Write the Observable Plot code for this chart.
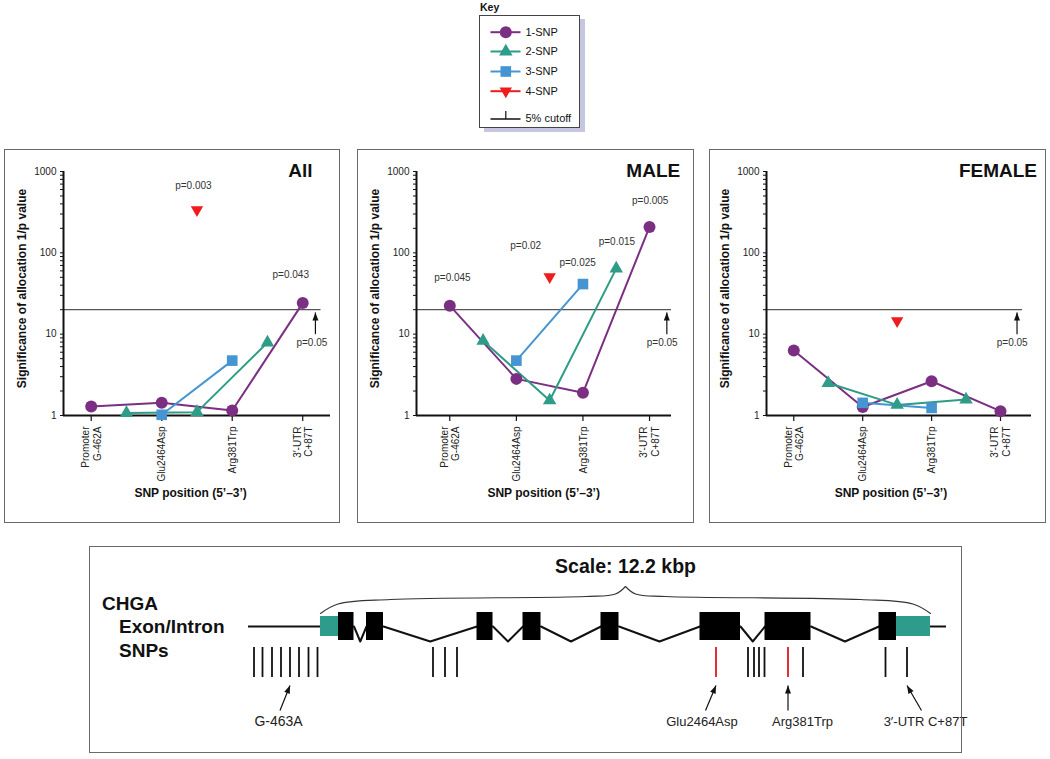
<!DOCTYPE html>
<html><head><meta charset="utf-8">
<script src="https://cdn.jsdelivr.net/npm/d3@7"></script>
<script src="https://cdn.jsdelivr.net/npm/@observablehq/plot@0.6"></script>
<style>
body{margin:0;background:#fff;font-family:"Liberation Sans",Arial,Helvetica,sans-serif;}
#page{position:relative;width:1050px;height:759px;overflow:hidden;background:#fff}
.box{position:absolute;border:1.5px solid #6a6a6a;box-sizing:border-box;pointer-events:none}
</style></head><body><div id="page"></div>
<script>
// ---------------- DATA ----------------
const categories = ["Promoter\nG-462A", "Glu2464Asp", "Arg381Trp", "3′-UTR\nC+87T"];
const categoryPos = [0, 1, 2, 3];
const seriesNames = ["1-SNP", "2-SNP", "3-SNP", "4-SNP"];
const seriesColors = ["#7b2f83", "#2e9c86", "#4595d2", "#ee1c1c"];

const snp1Pos = [0, 1, 2, 3];
const snp2Pos = [0.5, 1.5, 2.5];
const snp3Pos = [1, 2];
const snp4Pos = [1.5];

const allSnp1 = [1.29, 1.43, 1.15, 24.1];
const allSnp2 = [1.07, 1.10, 7.9];
const allSnp3 = [1.02, 4.73];
const allSnp4 = [337];

const maleSnp1 = [22.4, 2.82, 1.90, 208];
const maleSnp2 = [8.3, 1.53, 64];
const maleSnp3 = [4.73, 41.3];
const maleSnp4 = [50.8];

const femaleSnp1 = [6.28, 1.27, 2.64, 1.13];
const femaleSnp2 = [2.51, 1.35, 1.57];
const femaleSnp3 = [1.43, 1.24];
const femaleSnp4 = [14.6];

const cutoffP = 0.05;
const yTicks = [1, 10, 100, 1000];
const yLabel = "Significance of allocation 1/p value";
const xLabel = "SNP position (5’–3’)";

const allNotes = [{text: "p=0.003", x: 1.45, y: 676}, {text: "p=0.043", x: 2.83, y: 53}];
const maleNotes = [{text: "p=0.045", x: 0.04, y: 49.8}, {text: "p=0.02", x: 1.14, y: 122},
  {text: "p=0.025", x: 1.92, y: 76}, {text: "p=0.015", x: 2.51, y: 137}, {text: "p=0.005", x: 3.01, y: 434}];
const femaleNotes = [];

// Gene (kb, 0 = start of transcript)
const geneSpanKb = 12.2;
const flankStart = -1.44, flankEnd = 12.52;
const exonStart = [0.36, 0.92, 3.13, 4.05, 5.61, 7.59, 8.89, 11.17];
const exonEnd   = [0.67, 1.26, 3.45, 4.41, 5.97, 8.40, 9.81, 11.52];
const utrStart = [0, 11.52];
const utrEnd = [0.36, 12.2];
const snpKb = [-1.33, -1.16, -0.97, -0.79, -0.61, -0.43, -0.24, -0.06, 2.25, 2.49, 2.73,
  8.55, 8.67, 8.77, 8.88, 9.65, 11.30, 11.73];
const codingSnpKb = [7.91, 9.35];
const snpNames = ["G-463A", "Glu2464Asp", "Arg381Trp", "3′-UTR C+87T"];
const snpNameKb = [-0.61, 7.91, 9.35, 11.73];
const geneLabels = ["CHGA", "Exon/Intron", "SNPs"];

// ---------------- LAYOUT ----------------
const FONT = '"Liberation Sans", Arial, Helvetica, sans-serif';
const page = document.getElementById("page");
function put(el, left, top) { el.style.position = "absolute"; el.style.left = left + "px"; el.style.top = top + "px"; page.appendChild(el); return el; }
function box(left, top, w, h, extra = "") { const d = document.createElement("div"); d.className = "box"; d.style.cssText += `left:${left}px;top:${top}px;width:${w}px;height:${h}px;${extra}`; page.appendChild(d); return d; }

const triangleDown = {draw(ctx, size) { const y = Math.sqrt(size / (Math.sqrt(3) * 3)); ctx.moveTo(0, 2 * y); ctx.lineTo(Math.sqrt(3) * y, -y); ctx.lineTo(-Math.sqrt(3) * y, -y); ctx.closePath(); }};
function headSymbol(angle, len = 8, half = 3) {
  return {draw(ctx) { const c = Math.cos(angle), s = Math.sin(angle); const bx = -len * c, by = -len * s, px = -s * half, py = c * half;
    ctx.moveTo(0, 0); ctx.lineTo(bx + px, by + py); ctx.lineTo(bx - px, by - py); ctx.closePath(); }};
}
const colorOf = Object.fromEntries(seriesNames.map((n, i) => [n, seriesColors[i]]));
const symbolOf = {"1-SNP": "circle", "2-SNP": "triangle", "3-SNP": "square", "4-SNP": triangleDown};
const rOf = {"1-SNP": 6, "2-SNP": 5, "3-SNP": 6, "4-SNP": 4.6};

const minorTicks = [];
for (let k = 0; k < 3; k++) for (let m = 1; m < 10; m++) minorTicks.push(m * 10 ** k);
minorTicks.push(1000);

const panelLayout = [
  {key: "All", left: 4, width: 336, ml: 59, mr: 10, xDomain: [-0.393, 3.394], cutEnd: 3.26, arrowX: 3.18, pX: 3.13, titleX: 3.14},
  {key: "MALE", left: 357, width: 337, ml: 59, mr: 23, xDomain: [-0.5, 3.33], cutEnd: 3.33, arrowX: 3.26, pX: 3.19, titleX: 3.46},
  {key: "FEMALE", left: 709, width: 337, ml: 57, mr: 15, xDomain: [-0.396, 3.45], cutEnd: 3.32, arrowX: 3.24, pX: 3.17, titleX: 3.53}
];

function makePanel(L, s1, s2, s3, s4, notes) {
  const rows = [];
  [["1-SNP", snp1Pos, s1], ["2-SNP", snp2Pos, s2], ["3-SNP", snp3Pos, s3], ["4-SNP", snp4Pos, s4]]
    .forEach(([name, xs, vs]) => xs.forEach((x, i) => rows.push({series: name, x, v: vs[i]})));
  const by = n => rows.filter(d => d.series === n);
  const cut = 1 / cutoffP;
  const marks = [
    Plot.ruleY([{y: cut, a: L.xDomain[0], b: L.cutEnd}], {y: "y", x1: "a", x2: "b", stroke: "#555", strokeWidth: 1.3}),
    Plot.axisY({ticks: minorTicks, label: null, tickSize: 3, tickPadding: 4, tickFormat: d => yTicks.includes(d) ? String(d) : "", fontSize: 10, fill: "#222"}),
    Plot.axisX({ticks: categoryPos, label: null, tickSize: 6, tickFormat: () => "", strokeWidth: 1.2}),
    Plot.ruleX([L.xDomain[0]], {stroke: "#111", strokeWidth: 2}),
    Plot.ruleY([1], {stroke: "#111", strokeWidth: 2}),
    Plot.text(categoryPos, {x: d => d, text: (d, i) => categories[i], frameAnchor: "bottom", rotate: -90, textAnchor: "end", lineAnchor: "middle", dy: 11, lineHeight: 1.15, fontSize: 10, fill: "#222"}),
    Plot.text([{t: yLabel}], {text: "t", frameAnchor: "left", rotate: -90, dx: -41, dy: -5, fontWeight: "bold", fontSize: 12, textAnchor: "middle", lineAnchor: "middle", fill: "#111"}),
    Plot.text([{t: xLabel, x: 1.41}], {x: "x", text: "t", frameAnchor: "bottom", dy: 78, fontWeight: "bold", fontSize: 12, lineAnchor: "middle", fill: "#111"}),
    Plot.text([{t: L.key, x: L.titleX, y: 868}], {x: "x", y: "y", text: "t", textAnchor: "end", lineAnchor: "bottom", fontSize: 19, fontWeight: "bold", fill: "#111"}),
    Plot.text(notes, {x: "x", y: "y", text: "text", fontSize: 10, fill: "#333"}),
    Plot.text([{t: "p=0.05", x: L.pX, y: 7.94}], {x: "x", y: "y", text: "t", fontSize: 10, fill: "#333"}),
    Plot.link([{x: L.arrowX, y1: 10, y2: 18.5}], {x1: "x", x2: "x", y1: "y1", y2: "y2", stroke: "#111", strokeWidth: 1.2}),
    Plot.dot([{x: L.arrowX, y: 18.5}], {x: "x", y: "y", symbol: headSymbol(-Math.PI / 2, 8, 3), r: 3, fill: "#111", stroke: "none"})
  ];
  ["1-SNP", "2-SNP", "3-SNP"].forEach(n => marks.push(Plot.line(by(n), {x: "x", y: "v", stroke: colorOf[n], strokeWidth: 2})));
  seriesNames.forEach(n => marks.push(Plot.dot(by(n), {x: "x", y: "v", fill: colorOf[n], stroke: "none", symbol: symbolOf[n], r: rOf[n]})));
  return Plot.plot({
    width: L.width, height: 374, marginTop: 22, marginBottom: 108, marginLeft: L.ml, marginRight: L.mr,
    style: {fontFamily: FONT, fontSize: "10px", background: "transparent", overflow: "visible", color: "#111"},
    x: {domain: L.xDomain, axis: null, label: null},
    y: {type: "log", domain: [1, 1000], axis: null, label: null},
    marks
  });
}

const panelData = [
  [allSnp1, allSnp2, allSnp3, allSnp4, allNotes],
  [maleSnp1, maleSnp2, maleSnp3, maleSnp4, maleNotes],
  [femaleSnp1, femaleSnp2, femaleSnp3, femaleSnp4, femaleNotes]
];
panelLayout.forEach((L, i) => {
  const [a, b, c, d, notes] = panelData[i];
  put(makePanel(L, a, b, c, d, notes), L.left, 149);
  box(L.left, 149, L.width, 374);
});

// ---------------- KEY ----------------
const keyLabel = document.createElement("div");
keyLabel.textContent = "Key";
keyLabel.style.cssText = `font:bold 10.5px ${FONT};color:#111;line-height:12px`;
put(keyLabel, 480, 1);
const keyBox = document.createElement("div");
keyBox.style.cssText = "width:101px;height:113px;border:1px solid #444;box-sizing:border-box;background:#fff;box-shadow:5px 4px 0 #c6c6e0";
put(keyBox, 479, 15);
const legendRowsY = [16.7, 36, 56, 75.7];
const legendRows = seriesNames.map((n, i) => ({series: n, y: legendRowsY[i]}));
const cutRowY = 102.5;
const legendMarks = [
  Plot.link(legendRows, {x1: () => 11, x2: () => 41, y1: "y", y2: "y", stroke: d => colorOf[d.series], strokeWidth: 2}),
  Plot.text(legendRows, {x: () => 46, y: "y", text: "series", textAnchor: "start", fontSize: 11, fill: "#111"}),
  Plot.link([{y: cutRowY + 1}], {x1: () => 11, x2: () => 41, y1: "y", y2: "y", stroke: "#111", strokeWidth: 1.5}),
  Plot.link([{y: cutRowY + 1}], {x1: () => 26.3, x2: () => 26.3, y1: d => d.y - 8, y2: "y", stroke: "#111", strokeWidth: 1.2}),
  Plot.text([{t: "5% cutoff"}], {x: () => 46, y: () => cutRowY, text: "t", textAnchor: "start", fontSize: 11, fill: "#111"})
];
seriesNames.forEach(n => legendMarks.push(Plot.dot(legendRows.filter(d => d.series === n), {x: () => 26.3, y: "y", fill: colorOf[n], stroke: "none", symbol: symbolOf[n], r: rOf[n]})));
const legendPlot = Plot.plot({
  width: 99, height: 111, margin: 0,
  style: {fontFamily: FONT, background: "transparent", overflow: "visible"},
  x: {domain: [0, 99], range: [0, 99], axis: null},
  y: {domain: [0, 111], range: [0, 111], axis: null},
  marks: legendMarks
});
put(legendPlot, 479, 15);

// ---------------- GENE DIAGRAM ----------------
const G = 80;            // gene track
const dip = 15;          // intron depth
const snpTop = 101, snpBottom = 131;
const arrowTipY = 139, arrowTailY = 164, nameY = 179;
const arrowTailDx = [-0.2, -0.21, 0, 0.29];
const nameDx = [-0.23, -0.28, 0.29, 0.37];
const nameSize = [14, 13, 13, 13];
const gW = 873, gH = 207;
const gxDomain = [-4.62, 12.84];
const pxPerKb = gW / (gxDomain[1] - gxDomain[0]);

const exons = exonStart.map((s, i) => ({x1: s, x2: exonEnd[i]}));
const utrs = utrStart.map((s, i) => ({x1: s, x2: utrEnd[i]}));
const introns = [];
for (let i = 0; i < exonStart.length - 1; i++) {
  const a = exonEnd[i], b = exonStart[i + 1];
  introns.push({x: a, y: G, id: i}, {x: (a + b) / 2, y: G + dip, id: i}, {x: b, y: G, id: i});
}
const mid = geneSpanKb / 2;
const braceLeft = [[0, 67], [0.35, 57.5], [1.4, 53], [mid - 0.8, 50], [mid - 0.2, 47.5], [mid, 40]];
const brace = [
  ...braceLeft.map(([x, y]) => ({x, y, side: "L"})),
  ...braceLeft.map(([x, y]) => ({x: geneSpanKb - x, y, side: "R"}))
];
const named = snpNames.map((n, i) => ({name: n, snp: snpNameKb[i], tail: snpNameKb[i] + arrowTailDx[i], lx: snpNameKb[i] + nameDx[i], size: nameSize[i]}));

const geneMarks = [
  Plot.ruleY([{a: flankStart, b: 0}, {a: geneSpanKb, b: flankEnd}], {x1: "a", x2: "b", y: () => G, stroke: "#111", strokeWidth: 2}),
  Plot.line(introns, {x: "x", y: "y", z: "id", stroke: "#111", strokeWidth: 2}),
  Plot.rect(utrs, {x1: "x1", x2: "x2", y1: () => G - 10, y2: () => G + 10, fill: "#2e9c8a"}),
  Plot.rect(exons, {x1: "x1", x2: "x2", y1: () => G - 14, y2: () => G + 14, fill: "#000"}),
  Plot.ruleX(snpKb, {x: d => d, y1: () => snpTop, y2: () => snpBottom, stroke: "#111", strokeWidth: 1.8}),
  Plot.ruleX(codingSnpKb, {x: d => d, y1: () => snpTop, y2: () => snpBottom, stroke: "#e8141c", strokeWidth: 1.8}),
  Plot.link(named, {x1: "tail", y1: () => arrowTailY, x2: "snp", y2: () => arrowTipY, stroke: "#111", strokeWidth: 1.2}),
  Plot.text(named, {x: "lx", y: () => nameY, text: "name", lineAnchor: "bottom", fontSize: d => d.size, fill: "#222"}),
  Plot.line(brace, {x: "x", y: "y", z: "side", curve: "catmull-rom", stroke: "#333", strokeWidth: 1.1}),
  Plot.text([{t: `Scale: ${geneSpanKb} kbp`}], {x: () => mid, y: () => 26.3, text: "t", lineAnchor: "bottom", fontSize: 19.5, fontWeight: "bold", fill: "#111"}),
  Plot.text(geneLabels.map((t, i) => ({t, i})), {x: d => d.i === 0 ? -4.37 : -4.03, y: d => [63.3, 86.7, 110.7][d.i], text: "t", textAnchor: "start", lineAnchor: "bottom", fontSize: 19, fontWeight: "bold", fill: "#111"})
];
named.forEach(d => {
  const ang = Math.atan2(arrowTipY - arrowTailY, (d.snp - d.tail) * pxPerKb);
  geneMarks.push(Plot.dot([d], {x: "snp", y: () => arrowTipY, symbol: headSymbol(ang, 8, 3), r: 3, fill: "#111", stroke: "none"}));
});
const genePlot = Plot.plot({
  width: gW, height: gH, margin: 0,
  style: {fontFamily: FONT, background: "transparent", overflow: "visible"},
  x: {domain: gxDomain, range: [0, gW], axis: null},
  y: {domain: [0, gH], range: [0, gH], axis: null},
  marks: geneMarks
});
put(genePlot, 89, 546);
box(89, 546, gW, gH);
</script></body></html>
